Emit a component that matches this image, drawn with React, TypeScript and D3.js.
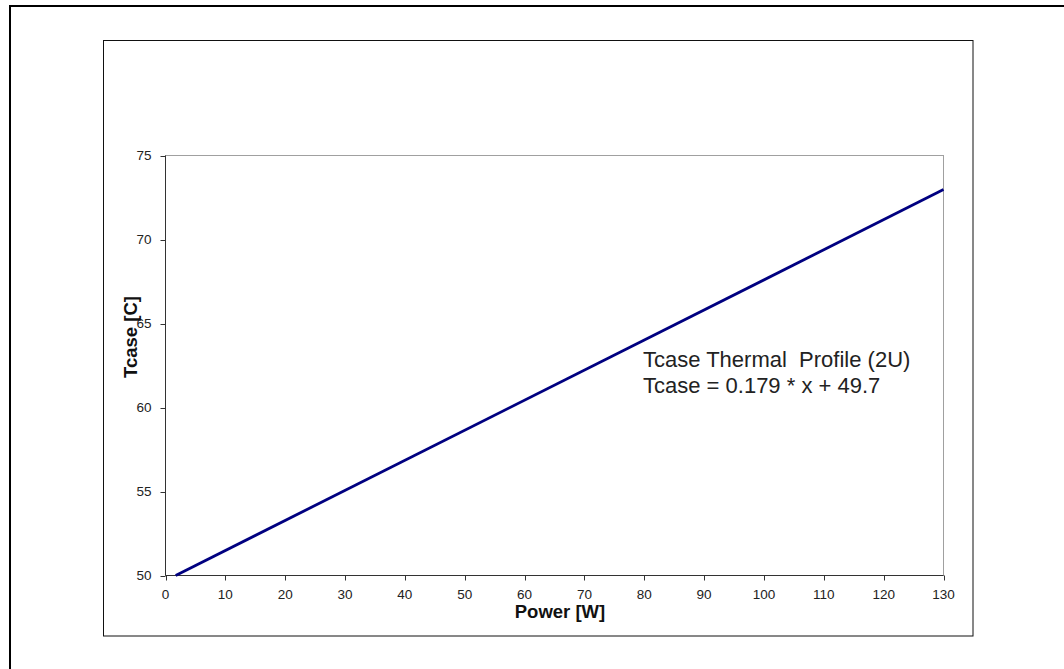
import React from "react";
import * as d3 from "d3";

const powerValues = [1.7, 130];
const tcaseValues = [50, 72.97];
const xTicks = [0, 10, 20, 30, 40, 50, 60, 70, 80, 90, 100, 110, 120, 130];
const yTicks = [50, 55, 60, 65, 70, 75];
const annotationLines = ["Tcase Thermal  Profile (2U)", "Tcase = 0.179 * x + 49.7"];

const W = 1064;
const H = 669;
const plot = { left: 165.5, top: 155.5, right: 943.5, bottom: 575.5 };

export default function App() {
  const x = d3.scaleLinear().domain([0, 130]).range([plot.left, plot.right]);
  const y = d3.scaleLinear().domain([50, 75]).range([plot.bottom, plot.top]);
  const line = d3
    .line<number>()
    .x((_, i) => x(powerValues[i]))
    .y((d) => y(d));
  const font = "Arial, 'Liberation Sans', sans-serif";
  return (
    <svg
      width={W}
      height={H}
      style={{ position: "absolute", left: 0, top: 0, background: "#fff" }}
      fontFamily={font}
    >
      <rect x={0} y={0} width={W} height={H} fill="#fff" />
      {/* outer frame */}
      <path d={`M10,${H + 5} V6 H${W + 5}`} fill="none" stroke="#000" strokeWidth={2} />
      {/* chart area */}
      <rect x={103.5} y={40.5} width={869.5} height={595.5} fill="#fff" stroke="#111" strokeWidth={1} />
      {/* plot area border */}
      <rect
        x={plot.left}
        y={plot.top}
        width={plot.right - plot.left}
        height={plot.bottom - plot.top}
        fill="#fff"
        stroke="#a0a0a0"
        strokeWidth={1}
      />
      {/* axes */}
      <line x1={plot.left} x2={plot.left} y1={plot.top} y2={plot.bottom} stroke="#333" strokeWidth={1} />
      <line x1={plot.left} x2={plot.right} y1={plot.bottom} y2={plot.bottom} stroke="#333" strokeWidth={1} />
      {yTicks.map((t) => (
        <g key={"y" + t}>
          <line x1={plot.left - 5} x2={plot.left} y1={Math.round(y(t)) + 0.5} y2={Math.round(y(t)) + 0.5} stroke="#333" />
          <text x={plot.left - 14} y={y(t)} dy="0.35em" textAnchor="end" fontSize={13.5} fill="#222">
            {t}
          </text>
        </g>
      ))}
      {xTicks.map((t) => (
        <g key={"x" + t}>
          <line x1={Math.round(x(t)) + 0.5} x2={Math.round(x(t)) + 0.5} y1={plot.bottom} y2={plot.bottom + 5} stroke="#333" />
          <text x={x(t)} y={plot.bottom + 23} textAnchor="middle" fontSize={13.5} fill="#222">
            {t}
          </text>
        </g>
      ))}
      <path d={line(tcaseValues) || ""} fill="none" stroke="#000080" strokeWidth={2.8} />
      <text x={560} y={618} textAnchor="middle" fontSize={18.5} fontWeight="bold" fill="#111">
        Power [W]
      </text>
      <text
        transform="translate(137,337) rotate(-90)"
        textAnchor="middle"
        fontSize={18.5}
        fontWeight="bold"
        fill="#111"
      >
        Tcase [C]
      </text>
      {annotationLines.map((s, i) => (
        <text key={i} x={643} y={367 + i * 26} fontSize={22} fill="#222" style={{ whiteSpace: "pre" }}>
          {s}
        </text>
      ))}
    </svg>
  );
}
